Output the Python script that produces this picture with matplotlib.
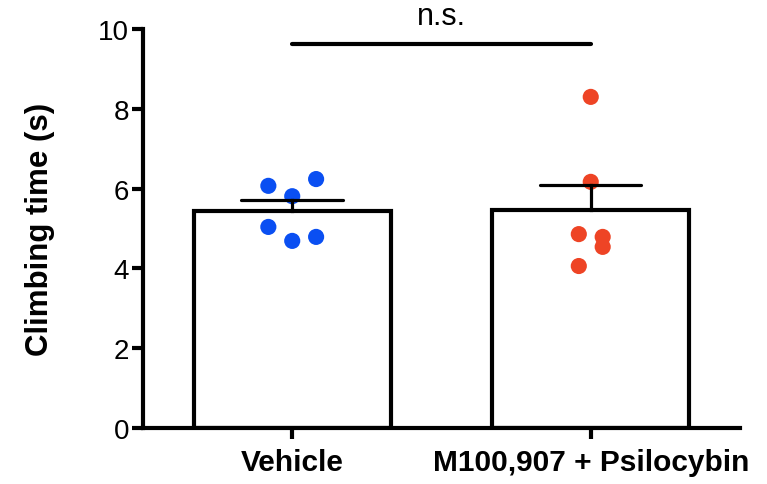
import numpy as np
import matplotlib
matplotlib.use("Agg")
import matplotlib.pyplot as plt

plt.rcParams['font.family'] = ['Liberation Sans', 'DejaVu Sans']

groups = ["Vehicle", "M100,907 + Psilocybin"]
vehicle = [6.07, 6.24, 5.81, 5.04, 4.69, 4.79]
vehicle_dx = [-0.08, 0.08, 0.0, -0.08, 0.0, 0.08]
psilo = [8.30, 6.17, 4.86, 4.79, 4.54, 4.06]
psilo_dx = [0.0, 0.0, -0.04, 0.04, 0.04, -0.04]
colors = ["#0a4ff2", "#ee4425"]

data = [vehicle, psilo]
offsets = [vehicle_dx, psilo_dx]
means = [np.mean(d) for d in data]
sems = [np.std(d, ddof=1) / np.sqrt(len(d)) for d in data]

fig = plt.figure(figsize=(7.67, 4.85), dpi=100)
ax = fig.add_axes([0.1864, 0.1155, 0.7784, 0.8225])

x = np.arange(len(groups))
ax.bar(x, means, width=0.66, color="white", edgecolor="black", linewidth=3, zorder=2)

for i in range(len(groups)):
    ax.scatter(x[i] + np.array(offsets[i]), data[i], s=135, color=colors[i],
               edgecolor="none", zorder=3)
    # upper error bar only
    top = means[i] + sems[i]
    ax.plot([x[i], x[i]], [means[i], top], color="black", lw=2.3, zorder=4)
    ax.plot([x[i] - 0.17, x[i] + 0.17], [top, top], color="black", lw=2.3,
            solid_capstyle="round", zorder=4)

# significance bar
ax.plot([0, 1], [9.62, 9.62], color="black", lw=3, solid_capstyle="round",
        clip_on=False, zorder=4)
ax.text(0.5, 9.95, "n.s.", ha="center", va="bottom", fontsize=22)

ax.set_xlim(-0.5, 1.5)
ax.set_ylim(0, 10)
ax.set_yticks([0, 2, 4, 6, 8, 10])
ax.set_xticks(x)
ax.set_xticklabels(groups, fontsize=21.5, fontweight="bold")
ax.tick_params(axis="y", labelsize=20, width=3, length=8, pad=2)
ax.tick_params(axis="x", width=3, length=8, pad=6.5)
ax.set_ylabel("Climbing time (s)", fontsize=22.5, fontweight="bold", labelpad=31)

for s in ["top", "right"]:
    ax.spines[s].set_visible(False)
for s in ["left", "bottom"]:
    ax.spines[s].set_linewidth(3)

fig.savefig("out.png", dpi=100)
